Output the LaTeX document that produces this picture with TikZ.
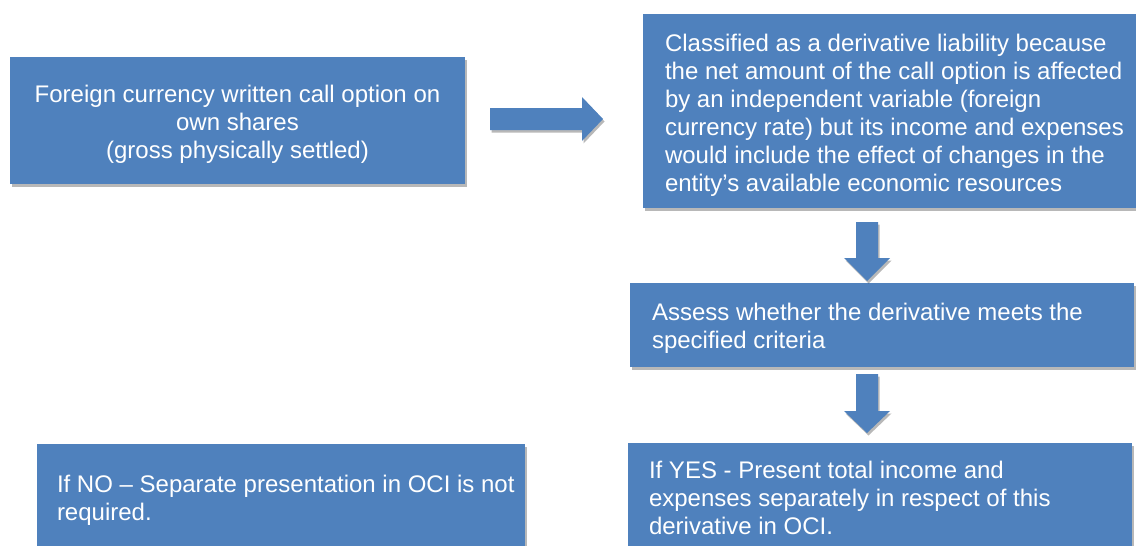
\documentclass[tikz,border=0pt]{standalone}
\usepackage{fontspec}
\setmainfont{Liberation Sans}
\usetikzlibrary{calc,shadows}
\definecolor{boxblue}{RGB}{79,129,189}
\begin{document}
\begin{tikzpicture}[x=1pt,y=-1pt,
  softshadow/.style={drop shadow={shadow xshift=1.5pt, shadow yshift=-2.5pt, opacity=0.28, fill=black}},
  box/.style={fill=boxblue, draw=none, inner sep=0pt, outer sep=0pt, anchor=north west, softshadow},
  txt/.style={text=white, inner sep=0pt, outer sep=0pt, font=\fontsize{24}{28}\selectfont, align=left, anchor=north west},
  blockarrow/.style={fill=boxblue, draw=none, softshadow}]
\useasboundingbox (0,0) rectangle (1136,546);
\clip (0,0) rectangle (1136,546);

% boxes
\node[box, minimum width=455pt, minimum height=127pt] (b1) at (10,57) {};
\node[box, minimum width=500pt, minimum height=194pt] (b2) at (643,14) {};
\node[box, minimum width=504pt, minimum height=84pt] (b3) at (630,283) {};
\node[box, minimum width=504pt, minimum height=113pt] (b4) at (628,443) {};
\node[box, minimum width=488pt, minimum height=112pt] (b5) at (37,444) {};

% texts
\node[txt, align=center, anchor=north] (t1) at ($(b1.north)+(0,25.4)$)
  {\strut Foreign currency written call option on\\own shares\\(gross physically settled)};
\node[txt] (t2) at ($(b2.north west)+(22,17.4)$)
  {\strut Classified as a derivative liability because\\the net amount of the call option is affected\\by an independent variable (foreign\\currency rate) but its income and expenses\\would include the effect of changes in the\\entity’s available economic resources};
\node[txt] (t3) at ($(b3.north west)+(22,17.4)$)
  {\strut Assess whether the derivative meets the\\specified criteria};
\node[txt] (t4) at ($(b4.north west)+(21,15.4)$)
  {\strut If YES - Present total income and\\expenses separately in respect of this\\derivative in OCI.};
\node[txt] (t5) at ($(b5.north west)+(20,28.4)$)
  {\strut If NO – Separate presentation in OCI is not\\required.};

% block arrows
\fill[blockarrow] (490,108) -- (582,108) -- (582,97) -- (603,119) -- (582,141) -- (582,130) -- (490,130) -- cycle;
\fill[blockarrow] (856,222) -- (878,222) -- (878,258) -- (890,258) -- (867,281) -- (844,258) -- (856,258) -- cycle;
\fill[blockarrow] (856,374) -- (878,374) -- (878,411) -- (890,411) -- (867,433) -- (844,411) -- (856,411) -- cycle;
\end{tikzpicture}
\end{document}
